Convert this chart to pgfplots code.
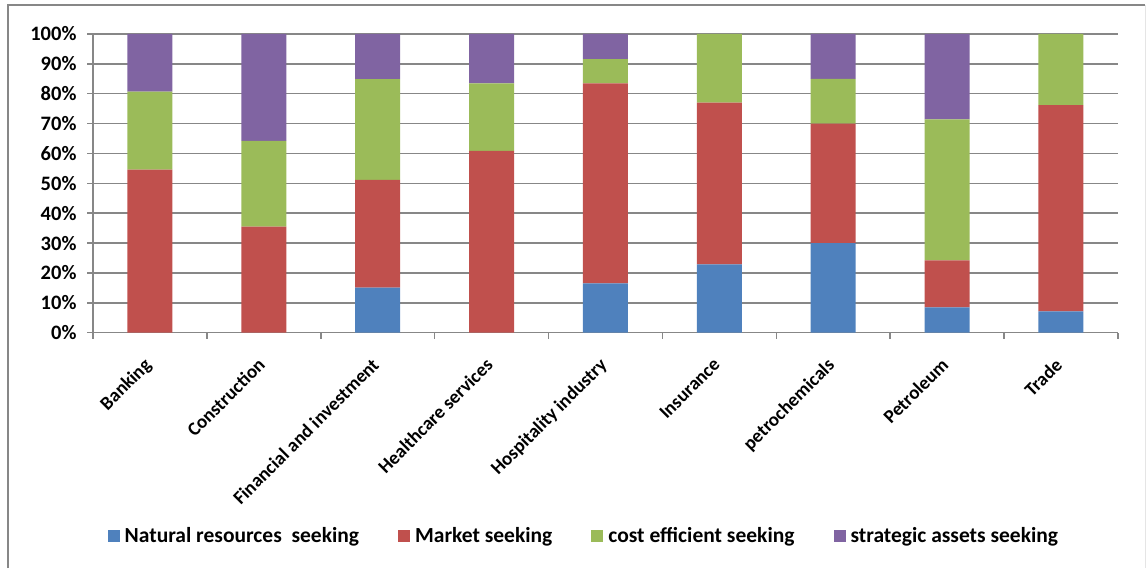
\documentclass[border=0pt]{standalone}
\usepackage{fontspec}
\setmainfont{Carlito}
\usepackage{pgfplots}
\pgfplotsset{compat=1.18}
\definecolor{cNR}{HTML}{4F81BD}
\definecolor{cM}{HTML}{C0504D}
\definecolor{cC}{HTML}{9BBB59}
\definecolor{cS}{HTML}{8064A2}
\definecolor{gridc}{HTML}{878787}
\begin{document}
\begin{tikzpicture}
\useasboundingbox (0pt,0pt) rectangle (1147pt,568pt);
\draw[gridc, line width=1.3pt] (8pt,0pt) -- (8pt,563pt) -- (1145pt,563pt);
\draw[gray!20, line width=1pt] (1145pt,563pt) -- (1145pt,0pt);
\begin{axis}[
  at={(93pt,235.3pt)}, anchor=south west,
  scale only axis, width=1025pt, height=298.7pt,
  ybar stacked, bar width=45pt,
  xmin=-0.5, xmax=8.5, ymin=0, ymax=100,
  axis x line*=bottom, axis y line*=left,
  axis line style={gridc, line width=1.5pt, -},
  tick align=outside, major tick length=6pt,
  tick style={gridc, line width=1.5pt},
  xtick={-0.5,0.5,...,8.5}, xticklabels={,,,,,,,,,,},
  extra x ticks={0,1,2,3,4,5,6,7,8},
  extra x tick labels={Banking,Construction,Financial and investment,Healthcare services,Hospitality industry,Insurance,petrochemicals,Petroleum,Trade},
  extra x tick style={major tick length=0pt, xticklabel style={rotate=45, anchor=north east, font=\bfseries\fontsize{19}{22}\selectfont, inner sep=0pt, yshift=-12pt, xshift=-22pt}},
  ytick={0,10,...,100},
  yticklabels={0\%,10\%,20\%,30\%,40\%,50\%,60\%,70\%,80\%,90\%,100\%},
  yticklabel style={font=\bfseries\fontsize{20.5}{24}\selectfont, xshift=-7pt},
  ymajorgrids, major grid style={gridc, line width=1.5pt},
  legend columns=4,
  legend style={draw=none, at={(0.479,-0.68)}, anchor=center,
    font=\bfseries\fontsize{21.5}{25}\selectfont,
    /tikz/every even column/.append style={column sep=37pt},
    /tikz/every odd column/.append style={column sep=3pt}},
  legend image code/.code={\fill[#1] (0pt,-6pt) rectangle (12pt,6pt);},
]
\addplot[fill=cNR, draw=none] coordinates {(0,0) (1,0) (2,15.1) (3,0) (4,16.5) (5,22.9) (6,30) (7,8.5) (8,7.1)};
\addplot[fill=cM, draw=none] coordinates {(0,54.6) (1,35.5) (2,36.1) (3,60.9) (4,67.0) (5,54.1) (6,40) (7,15.7) (8,69.1)};
\addplot[fill=cC, draw=none] coordinates {(0,26.1) (1,28.7) (2,33.7) (3,22.6) (4,8.1) (5,23.0) (6,15) (7,47.2) (8,23.8)};
\addplot[fill=cS, draw=none] coordinates {(0,19.3) (1,35.8) (2,15.1) (3,16.5) (4,8.4) (5,0) (6,15) (7,28.6) (8,0)};
\legend{Natural resources\ \ seeking, Market seeking, cost efficient seeking, strategic assets seeking}
\end{axis}
\end{tikzpicture}
\end{document}
